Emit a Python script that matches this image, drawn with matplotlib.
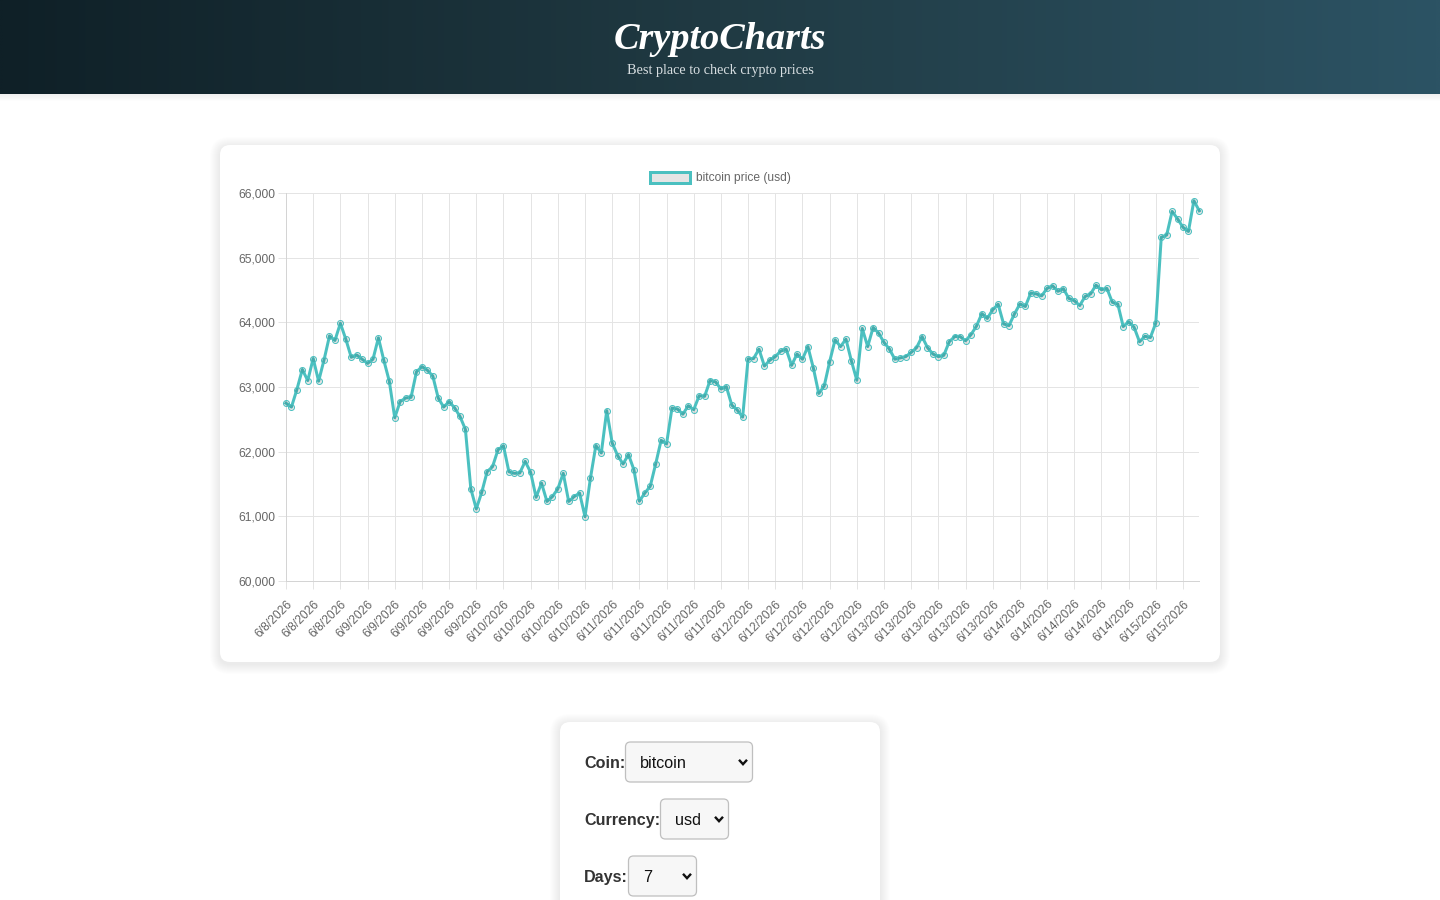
import matplotlib
matplotlib.use("Agg")
import numpy as np
import matplotlib.pyplot as plt
from matplotlib.patches import FancyBboxPatch, Rectangle, Patch
from matplotlib.colors import LinearSegmentedColormap
from matplotlib.transforms import ScaledTranslation
from datetime import datetime, timedelta

# ---- data (hourly bitcoin price, usd) ----
coin = "bitcoin"
currency = "usd"
days = 7
start_time = datetime(2026, 6, 8, 12)
prices = [
    62750, 62690, 62960, 63270, 63100, 63440, 63090, 63420, 63790, 63720,
    63985, 63740, 63460, 63495, 63430, 63365, 63430, 63760, 63410, 63090,
    62525, 62775, 62830, 62840, 63235, 63315, 63260, 63170, 62830, 62690,
    62775, 62680, 62545, 62345, 61425, 61115, 61370, 61690, 61770, 62030,
    62090, 61690, 61665, 61670, 61850, 61680, 61295, 61515, 61230, 61305,
    61425, 61665, 61230, 61305, 61360, 60995, 61590, 62095, 61980, 62635,
    62135, 61940, 61810, 61955, 61720, 61235, 61360, 61465, 61810, 62175,
    62120, 62675, 62660, 62580, 62710, 62650, 62865, 62855, 63100, 63080,
    62970, 63005, 62720, 62645, 62535, 63435, 63440, 63585, 63325, 63415,
    63470, 63555, 63585, 63335, 63510, 63430, 63625, 63295, 62900, 63015,
    63390, 63730, 63625, 63740, 63405, 63105, 63905, 63625, 63920, 63835,
    63690, 63585, 63430, 63450, 63470, 63535, 63610, 63780, 63610, 63510,
    63470, 63490, 63700, 63780, 63780, 63715, 63810, 63940, 64135, 64060,
    64195, 64280, 63975, 63950, 64130, 64285, 64245, 64455, 64440, 64410,
    64525, 64565, 64480, 64520, 64370, 64335, 64260, 64400, 64440, 64575,
    64505, 64525, 64310, 64285, 63935, 64010, 63925, 63700, 63785, 63765,
    63990, 65315, 65350, 65715, 65600, 65470, 65405, 65880, 65725,
]
y_ticks = [60000, 61000, 62000, 63000, 64000, 65000, 66000]
tick_step = 5

times = [start_time + timedelta(hours=i) for i in range(len(prices))]
x_labels = ["%d/%d/%d" % (t.month, t.day, t.year) for t in times]

form_labels = ["Coin:", "Currency:", "Days:"]
form_values = [coin, currency, str(days)]

TEAL = "#4bc0c0"
SANS = ["Liberation Sans", "DejaVu Sans"]
SERIF = ["Liberation Serif", "DejaVu Serif"]
PX = 72.0 / 100  # points per pixel

fig = plt.figure(figsize=(14.4, 9), dpi=100)
fig.patch.set_facecolor("white")

# page background, drawn in pixel coords
bg = fig.add_axes([0, 0, 1, 1], zorder=0)
grad = LinearSegmentedColormap.from_list("hdr", ["#0f2027", "#203a43", "#2c5364"])
bg.imshow(np.linspace(0, 1, 512)[None, :], extent=[0, 1440, 94, 0],
          aspect="auto", cmap=grad, interpolation="bilinear")
for i in range(7):
    bg.add_patch(Rectangle((0, 94 + i), 1440, 1, fc="k", ec="none",
                           alpha=0.06 * (1 - i / 7.0)))
bg.text(720, 49, "CryptoCharts", ha="center", va="baseline", color="white",
        fontsize=27.5, fontweight="bold", fontstyle="italic", family=SERIF)
bg.text(720, 74, "Best place to check crypto prices", ha="center",
        va="baseline", color="#d6dde0", fontsize=10.3, family=SERIF)


def card(x0, y0, w, h):
    for i in range(10, 0, -1):
        bg.add_patch(FancyBboxPatch((x0 - i, y0 - i + 2), w + 2 * i, h + 2 * i,
                                    boxstyle="round,pad=0,rounding_size=%d" % (10 + i),
                                    fc="k", ec="none", alpha=0.006))
    bg.add_patch(FancyBboxPatch((x0, y0), w, h, boxstyle="round,pad=0,rounding_size=10",
                                fc="white", ec="none"))


card(220, 145, 1000, 517)
card(560, 722, 320, 220)

# form
rows_y = [762, 819, 876]
sel_x0 = [625.5, 660.5, 628.5]
sel_w = [127, 68, 68]
for lab, val, cy, sx, sw in zip(form_labels, form_values, rows_y, sel_x0, sel_w):
    bg.text(584, cy + 1.5, lab, ha="left", va="center", fontsize=11.6,
            fontweight="bold", color="#333333", family=SANS)
    bg.add_patch(FancyBboxPatch((sx, cy - 20), sw, 40,
                                boxstyle="round,pad=0,rounding_size=5",
                                fc="#f7f7f7", ec="#bfbfbf", lw=0.9))
    bg.text(sx + 14.5, cy + 1.5, val, ha="left", va="center", fontsize=11.6,
            color="#111111", family=SANS)
    cx = sx + sw - 9.5
    bg.plot([cx - 4, cx, cx + 4], [cy - 2.2, cy + 2.2, cy - 2.2], color="#111111",
            lw=1.7, solid_capstyle="butt", solid_joinstyle="miter")

bg.set_xlim(0, 1440)
bg.set_ylim(900, 0)
bg.axis("off")

# chart
ax = fig.add_axes([286 / 1440, 1 - 581 / 900, 913.3 / 1440, 388 / 900], zorder=2)
ax.patch.set_alpha(0)
line, = ax.plot(range(len(prices)), prices, color=TEAL, lw=3 * PX, marker="o",
                ms=6 * PX, mfc=(0, 0, 0, 0.1), mec=TEAL, mew=1 * PX,
                clip_on=False, zorder=3)
ax.set_xlim(0, len(prices) - 1)
ax.set_ylim(y_ticks[0], y_ticks[-1])
ax.set_yticks(y_ticks)
ax.set_yticklabels(["{:,}".format(v) for v in y_ticks], family=SANS)
xt = list(range(0, len(prices), tick_step))
ax.set_xticks(xt)
ax.set_xticklabels([x_labels[i] for i in xt], rotation=45, ha="right", va="top",
                   rotation_mode="anchor", family=SANS)
shift = ScaledTranslation(3 / 100, 0, fig.dpi_scale_trans)
for t in ax.get_xticklabels():
    t.set_transform(t.get_transform() + shift)

ax.grid(True, color="#e4e4e4", lw=1 * PX, zorder=0)
ax.tick_params(axis="both", length=8 * PX, width=1 * PX, color="#e4e4e4",
               labelcolor="#666666", labelsize=12 * PX)
ax.tick_params(axis="x", pad=9 * PX)
ax.tick_params(axis="y", pad=2.5 * PX)
for s in ["top", "right"]:
    ax.spines[s].set_visible(False)
for s in ["left", "bottom"]:
    ax.spines[s].set_color("#d4d4d4")
    ax.spines[s].set_linewidth(1 * PX)

leg_handle = Patch(facecolor=(0, 0, 0, 0.1), edgecolor=TEAL, lw=3 * PX)
leg = fig.legend([leg_handle], ["%s price (%s)" % (coin, currency)], loc="center",
                 bbox_to_anchor=(0.5, 1 - 178 / 900), frameon=False,
                 handlelength=40 / 12, handleheight=1.0, handletextpad=0.5,
                 prop={"family": SANS, "size": 12 * PX})
for t in leg.get_texts():
    t.set_color("#666666")

fig.savefig("out.png", dpi=100)
